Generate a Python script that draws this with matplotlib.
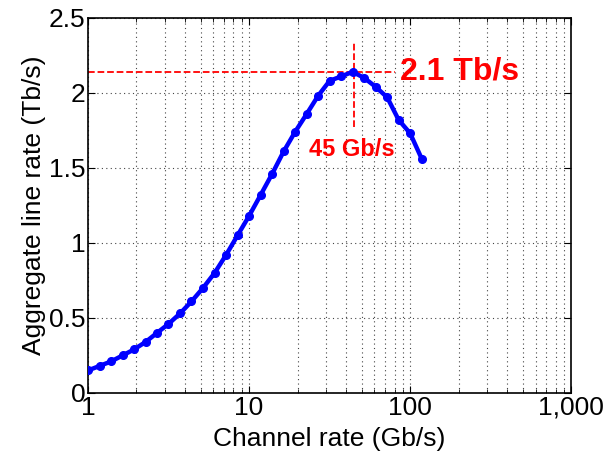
import matplotlib.pyplot as plt
from matplotlib.ticker import FixedLocator, LogLocator, NullFormatter

plt.rcParams['font.family'] = ['Liberation Sans', 'DejaVu Sans']

# channel rate (Gb/s) and aggregate line rate (Tb/s)
channel_rate = [1, 1.18, 1.39, 1.64, 1.93, 2.28, 2.68, 3.16, 3.73, 4.39,
                5.18, 6.11, 7.2, 8.48, 10, 11.8, 13.9, 16.4, 19.3, 22.8,
                26.8, 31.6, 37.3, 43.9, 51.8, 61.1, 72, 84.8, 100, 118]
line_rate = [0.15, 0.18, 0.21, 0.25, 0.29, 0.34, 0.40, 0.46, 0.53, 0.61,
             0.70, 0.80, 0.92, 1.05, 1.18, 1.32, 1.46, 1.61, 1.74, 1.86,
             1.98, 2.08, 2.11, 2.14, 2.10, 2.04, 1.97, 1.82, 1.73, 1.56]

peak_rate = 45      # Gb/s
peak_line = 2.14    # Tb/s
xticks = [1, 10, 100, 1000]
xticklabels = ['1', '10', '100', '1,000']
yticks = [0, 0.5, 1, 1.5, 2, 2.5]
yticklabels = ['0', '0.5', '1', '1.5', '2', '2.5']

fig = plt.figure(figsize=(6.11, 4.58), dpi=100)
ax = fig.add_axes([0.144, 0.142, 0.791, 0.819])

ax.plot(channel_rate, line_rate, '-o', color='#0000ff', lw=3.2, ms=5.5, zorder=3)

ax.plot([1, 80.7], [peak_line, peak_line], '--', color='red', lw=1.3, zorder=2)
ax.plot([peak_rate, peak_rate], [1.77, 2.33], '--', color='red', lw=1.3, zorder=2)
ax.text(86, peak_line, '2.1 Tb/s', color='red', fontsize=23, fontweight='bold',
        va='center', ha='left')
ax.text(peak_rate - 1.5, 1.62, '45 Gb/s', color='red', fontsize=17, fontweight='bold',
        va='center', ha='center')

ax.set_xscale('log')
ax.set_xlim(1, 1000)
ax.set_ylim(0, 2.5)
ax.xaxis.set_major_locator(FixedLocator(xticks))
ax.set_xticklabels(xticklabels)
ax.xaxis.set_minor_locator(LogLocator(base=10, subs=range(2, 10)))
ax.xaxis.set_minor_formatter(NullFormatter())
ax.set_yticks(yticks)
ax.set_yticklabels(yticklabels)

ax.grid(True, which='major', ls=(0, (1, 3)), color='#444444', lw=0.8)
ax.grid(True, which='minor', axis='x', ls=(0, (1, 3)), color='#444444', lw=0.8)

ax.tick_params(which='both', direction='in', top=True, right=True,
               labelsize=19, pad=2)
ax.tick_params(which='major', length=5)
ax.tick_params(which='minor', length=3)
for s in ax.spines.values():
    s.set_linewidth(1.2)

ax.set_xlabel('Channel rate (Gb/s)', fontsize=19, labelpad=5)
ax.set_ylabel('Aggregate line rate (Tb/s)', fontsize=19, labelpad=2)

fig.savefig('out.png', dpi=100)
